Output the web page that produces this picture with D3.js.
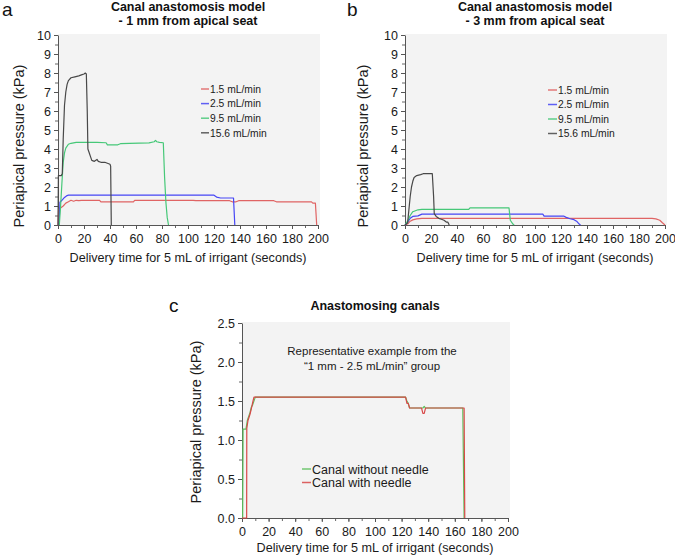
<!DOCTYPE html>
<html>
<head>
<meta charset="utf-8">
<script src="https://cdn.jsdelivr.net/npm/d3@7"></script>
<style>
  html, body { margin: 0; padding: 0; background: #fff; }
  svg { display: block; font-family: "Liberation Sans", Arial, sans-serif; }
</style>
</head>
<body>
<svg id="chart" width="675" height="557"></svg>
<script>
// ---------------- DATA ----------------
const legendLabelsAB = ["1.5 mL/min", "2.5 mL/min", "9.5 mL/min", "15.6 mL/min"];
const legendLabelsC = ["Canal without needle", "Canal with needle"];
const xTicks = [0, 20, 40, 60, 80, 100, 120, 140, 160, 180, 200];
const yTicksAB = [0, 1, 2, 3, 4, 5, 6, 7, 8, 9, 10];
const yTicksC = [0, 0.5, 1.0, 1.5, 2.0, 2.5];

// Panel a: 1 mm from apical seat  [time (s), pressure (kPa)]
const a_1_5 = [[0,0],[0.5,0.85],[2,0.9],[4,1.0],[6,1.15],[8,1.22],[10,1.3],[12,1.25],[14,1.3],[16,1.28],[18,1.3],[28,1.3],[32,1.3],[33,1.22],[58,1.22],[59,1.3],[104,1.3],[106,1.28],[132,1.28],[134,1.22],[137,1.22],[139,1.28],[166,1.28],[168,1.22],[195,1.22],[196,1.15],[198,1.15],[199,0]];
const a_2_5 = [[0.8,0],[1.5,1.2],[3,1.3],[5,1.45],[7,1.55],[8,1.57],[120,1.57],[122,1.47],[125,1.42],[135,1.42],[136,0]];
const a_9_5 = [[1,0],[2,1.0],[3,2.2],[4,3.3],[5,3.8],[6,4.05],[8,4.25],[10,4.3],[14,4.35],[30,4.35],[37,4.33],[38,4.22],[46,4.22],[48,4.28],[55,4.3],[70,4.32],[74,4.38],[75,4.45],[76,4.38],[78,4.35],[81,4.33],[82,2.5],[83,1.2],[84,0.4],[85,0]];
const a_15_6 = [[0,0],[0.3,2.6],[2.5,2.6],[3.3,2.7],[4,4.5],[5,6.3],[6,7.0],[7,7.4],[8,7.6],[10,7.75],[13,7.8],[16,7.85],[18,7.9],[20,7.95],[21,8.0],[21.8,7.95],[22.5,6.0],[23,4.0],[24,3.8],[25,3.6],[26,3.4],[28,3.35],[30,3.45],[31,3.35],[33,3.3],[36,3.3],[38,3.25],[40,3.2],[40.5,3.1],[41,0]];

// Panel b: 3 mm from apical seat
const b_1_5 = [[0,0],[2,0.05],[4,0.2],[6,0.27],[9,0.32],[13,0.35],[190,0.35],[193,0.32],[196,0.25],[198,0.12],[200,0]];
const b_2_5 = [[0,0],[2,0.15],[4,0.35],[6,0.45],[10,0.48],[13,0.57],[106,0.57],[107,0.47],[122,0.47],[124,0.4],[127,0.33],[130,0.28],[132,0.2],[134,0.05],[135,0]];
const b_9_5 = [[0,0],[2,0.2],[4,0.5],[6,0.7],[8,0.75],[10,0.8],[13,0.82],[49,0.82],[50,0.9],[80,0.9],[81,0.25],[83,0.05],[84,0]];
const b_15_6 = [[0,0],[2,0.1],[3,0.8],[4,1.5],[5,2.0],[6,2.3],[7,2.5],[9,2.6],[12,2.65],[14,2.7],[21,2.7],[22,1.5],[22.5,0.6],[24,0.45],[26,0.35],[28,0.3],[30,0.25],[32,0.15],[33,0.15],[34,0]];

// Panel c: anastomosing canals
const c_without = [[0.5,0],[0.8,1.14],[3,1.14],[4,1.25],[6,1.35],[7,1.42],[8,1.45],[10,1.55],[123,1.55],[124,1.5],[125,1.47],[126,1.41],[136,1.41],[137,1.43],[138,1.41],[166,1.41],[167,0]];
const c_with = [[0,0],[3.5,0],[3.6,1.15],[4.5,1.25],[6,1.33],[7,1.4],[8,1.48],[9,1.55],[123,1.55],[124,1.47],[125,1.47],[126,1.41],[135,1.41],[136,1.34],[137,1.34],[138,1.41],[167,1.41],[167.5,0]];

const colorsAB = ["#e06464", "#4646f5", "#46c878", "#484848"];
const colorsC = ["#5cc05c", "#d84848"];

// ---------------- DRAW ----------------
const svg = d3.select("#chart");
const FONT = "'Liberation Sans', Arial, sans-serif";

function panel(opts) {
  const g = svg.append("g");
  const x = d3.scaleLinear().domain([0, 200]).range([opts.x0, opts.x1]);
  const y = d3.scaleLinear().domain([0, opts.ymax]).range([opts.y0, opts.y1]);

  g.append("rect")
    .attr("x", opts.x0).attr("y", opts.y1 - 1)
    .attr("width", opts.x1 - opts.x0 + 2).attr("height", opts.y0 - opts.y1 + 1)
    .attr("fill", "#f3f3f3");

  // minor ticks
  const xMinor = d3.range(0, 201, 10);
  const yMinor = d3.range(0, opts.ymax + 1e-9, opts.yMinorStep);
  g.append("g").attr("transform", `translate(0,${opts.y0})`)
    .call(d3.axisBottom(x).tickValues(xMinor).tickFormat("").tickSize(3).tickSizeOuter(0))
    .call(s => s.select(".domain").remove())
    .call(s => s.selectAll("line").attr("stroke", "#666"));
  g.append("g").attr("transform", `translate(${opts.x0},0)`)
    .call(d3.axisLeft(y).tickValues(yMinor).tickFormat("").tickSize(3).tickSizeOuter(0))
    .call(s => s.select(".domain").remove())
    .call(s => s.selectAll("line").attr("stroke", "#666"));

  // major axes
  const xa = g.append("g").attr("transform", `translate(0,${opts.y0})`)
    .call(d3.axisBottom(x).tickValues(xTicks).tickSize(4).tickPadding(5).tickSizeOuter(0));
  const ya = g.append("g").attr("transform", `translate(${opts.x0},0)`)
    .call(d3.axisLeft(y).tickValues(opts.yTicks).tickFormat(opts.yFmt).tickSize(4).tickPadding(3).tickSizeOuter(0));
  [xa, ya].forEach(a => {
    a.select(".domain").attr("stroke", "#555");
    a.selectAll(".tick line").attr("stroke", "#555");
    a.selectAll("text").attr("font-family", FONT).attr("font-size", 12.5).attr("fill", "#1a1a1a");
  });

  const line = d3.line().x(d => x(d[0])).y(d => y(d[1]));
  opts.series.forEach((s, i) => {
    g.append("path").datum(s).attr("d", line)
      .attr("fill", "none").attr("stroke", opts.colors[i]).attr("stroke-width", 1.2)
      .attr("stroke-linejoin", "round");
  });

  // legend
  opts.legend.forEach((lab, i) => {
    const ly = opts.legY + i * opts.legDy;
    g.append("line").attr("x1", opts.legX).attr("x2", opts.legX + opts.legLen)
      .attr("y1", ly).attr("y2", ly).attr("stroke", opts.colors[i]).attr("stroke-width", 1.5).attr("opacity", 0.85);
    g.append("text").attr("x", opts.legX + opts.legLen + 1).attr("y", ly + opts.legFont * 0.36)
      .attr("font-family", FONT).attr("font-size", opts.legFont).attr("fill", "#1a1a1a").text(lab);
  });

  // titles
  const cx = (opts.x0 + opts.x1) / 2;
  opts.title.forEach((t, i) => {
    g.append("text").attr("x", cx).attr("y", opts.titleY + i * 14).attr("text-anchor", "middle")
      .attr("font-family", FONT).attr("font-weight", "bold").attr("font-size", 12.5).attr("fill", "#111").text(t);
  });
  g.append("text").attr("x", cx).attr("y", opts.xTitleY).attr("text-anchor", "middle")
    .attr("font-family", FONT).attr("font-size", 12.6).attr("fill", "#1a1a1a")
    .text("Delivery time for 5 mL of irrigant (seconds)");
  g.append("text").attr("transform", `translate(${opts.yTitleX},${opts.yTitleCY}) rotate(-90)`)
    .attr("text-anchor", "middle").attr("font-family", FONT).attr("font-size", 14.5).attr("fill", "#1a1a1a")
    .text("Periapical pressure (kPa)");
  g.append("text").attr("x", opts.letterX).attr("y", opts.letterY)
    .attr("font-family", FONT).attr("font-size", 19).attr("fill", "#111").text(opts.letter);
  return {g, x, y};
}

panel({
  x0: 58, x1: 318, y0: 225, y1: 35, ymax: 10, yTicks: yTicksAB, yFmt: d3.format("d"), yMinorStep: 0.5,
  series: [a_1_5, a_2_5, a_9_5, a_15_6], colors: colorsAB,
  legend: legendLabelsAB, legX: 201, legLen: 8, legY: 89, legDy: 14.6, legFont: 10.3,
  title: ["Canal anastomosis model", "- 1 mm from apical seat"], titleY: 11,
  xTitleY: 262, yTitleX: 24, yTitleCY: 146, letter: "a", letterX: 2, letterY: 16
});

panel({
  x0: 405, x1: 665, y0: 225, y1: 35, ymax: 10, yTicks: yTicksAB, yFmt: d3.format("d"), yMinorStep: 0.5,
  series: [b_1_5, b_2_5, b_9_5, b_15_6], colors: colorsAB,
  legend: legendLabelsAB, legX: 548, legLen: 9, legY: 90, legDy: 14.5, legFont: 10.3,
  title: ["Canal anastomosis model", "- 3 mm from apical seat"], titleY: 11,
  xTitleY: 262, yTitleX: 368, yTitleCY: 146, letter: "b", letterX: 347, letterY: 16
});

const pc = panel({
  x0: 242, x1: 508, y0: 518, y1: 323, ymax: 2.5, yTicks: yTicksC, yFmt: d3.format(".1f"), yMinorStep: 0.25,
  series: [c_without, c_with], colors: colorsC,
  legend: legendLabelsC, legX: 302, legLen: 9, legY: 469, legDy: 13.5, legFont: 12.5,
  title: ["Anastomosing canals"], titleY: 309.5,
  xTitleY: 552, yTitleX: 201, yTitleCY: 422, letter: "c", letterX: 169, letterY: 312
});

pc.g.append("text").attr("x", 372).attr("y", 355).attr("text-anchor", "middle")
  .attr("font-family", FONT).attr("font-size", 11.5).attr("fill", "#1a1a1a")
  .text("Representative example from the");
pc.g.append("text").attr("x", 372).attr("y", 370).attr("text-anchor", "middle")
  .attr("font-family", FONT).attr("font-size", 11.5).attr("fill", "#1a1a1a")
  .text("\u201C1 mm - 2.5 mL/min\u201D group");
</script>
</body>
</html>
